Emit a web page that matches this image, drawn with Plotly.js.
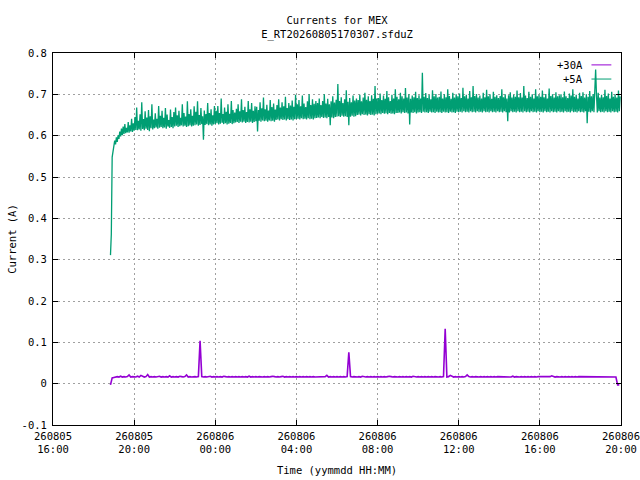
<!DOCTYPE html>
<html>
<head>
<meta charset="utf-8">
<script src="https://cdn.plot.ly/plotly-3.0.1.min.js"></script>
<style>
  html, body { margin: 0; padding: 0; background: #fff; }
  #chart { width: 640px; height: 480px; }
</style>
</head>
<body>
<div id="chart"></div>
<script>
/* Currents for MEX — +5A sampled every 2.5 min, +30A every 5 min */

const START_UTC = Date.UTC(2026, 7, 5, 18, 50); // first sample of both series
const STEP_5A_MS = 2.5 * 60 * 1000;
const STEP_30A_MS = 5 * 60 * 1000;

// +5A current, mA, one row per hour
const plus5A_mA = [
  311, 362, 548, 566,
  572, 588, 579, 596, 585, 601, 592, 610, 598, 617, 601, 622, 604, 628, 606, 619, 608, 633, 607, 625, 610, 641, 609, 630,
  612, 645, 614, 668, 613, 636, 615, 652, 612, 681, 616, 640, 613, 659, 617, 644, 614, 662, 611, 647, 618, 676, 615, 639,
  618, 654, 620, 641, 617, 672, 619, 648, 621, 660, 618, 643, 620, 667, 617, 651, 622, 638, 619, 663, 621, 645, 618, 657,
  622, 668, 624, 649, 621, 660, 623, 643, 625, 676, 622, 655, 624, 646, 621, 683, 623, 652, 625, 664, 622, 648, 624, 671,
  625, 658, 627, 683, 624, 650, 626, 667, 628, 647, 590, 661, 626, 652, 628, 679, 625, 655, 627, 664, 624, 649, 627, 672,
  628, 660, 630, 672, 627, 655, 629, 690, 631, 652, 628, 668, 630, 658, 627, 676, 629, 653, 631, 684, 628, 662, 630, 656,
  632, 665, 633, 676, 631, 659, 634, 688, 632, 662, 634, 670, 631, 657, 633, 684, 632, 664, 634, 679, 631, 660, 633, 671,
  635, 670, 610, 662, 636, 681, 634, 666, 637, 692, 635, 664, 636, 675, 634, 661, 637, 686, 635, 669, 636, 678, 634, 663,
  638, 674, 639, 688, 637, 668, 640, 681, 638, 671, 639, 694, 637, 667, 640, 679, 638, 673, 639, 685, 637, 670, 640, 699,
  640, 676, 641, 686, 639, 671, 642, 697, 640, 678, 641, 669, 639, 683, 642, 700, 640, 674, 641, 688, 639, 677, 642, 684,
  643, 679, 644, 690, 642, 674, 645, 684, 643, 700, 644, 678, 642, 689, 645, 676, 625, 683, 644, 695, 642, 680, 645, 687,
  646, 725, 647, 684, 645, 693, 648, 679, 646, 688, 647, 710, 645, 682, 625, 691, 646, 681, 648, 697, 646, 685, 647, 690,
  650, 686, 651, 699, 649, 683, 652, 692, 650, 704, 651, 687, 649, 695, 652, 684, 650, 698, 651, 689, 649, 720, 652, 690,
  653, 691, 654, 702, 652, 686, 655, 697, 653, 689, 654, 708, 652, 693, 655, 684, 653, 699, 654, 690, 652, 712, 655, 694,
  655, 688, 656, 704, 654, 695, 657, 690, 655, 715, 656, 692, 654, 700, 627, 689, 656, 697, 655, 693, 657, 706, 654, 691,
  656, 698, 657, 690, 655, 752, 658, 694, 656, 703, 657, 691, 655, 699, 658, 688, 656, 710, 657, 695, 655, 701, 658, 692,
  656, 694, 657, 707, 655, 690, 658, 700, 656, 693, 657, 712, 655, 696, 658, 689, 656, 704, 657, 692, 655, 700, 658, 695,
  657, 702, 658, 691, 656, 716, 659, 695, 657, 699, 658, 690, 656, 708, 659, 693, 657, 720, 658, 696, 656, 701, 659, 692,
  657, 697, 658, 690, 656, 704, 659, 693, 657, 711, 658, 695, 656, 700, 659, 689, 657, 706, 658, 694, 656, 698, 659, 691,
  657, 696, 658, 712, 656, 693, 659, 700, 657, 690, 635, 698, 656, 705, 659, 692, 657, 699, 658, 694, 656, 709, 659, 693,
  657, 703, 658, 692, 656, 720, 659, 697, 657, 691, 658, 706, 656, 694, 659, 700, 657, 690, 658, 712, 656, 695, 659, 699,
  657, 694, 658, 709, 656, 693, 659, 701, 657, 690, 658, 714, 656, 696, 659, 700, 657, 692, 658, 705, 656, 695, 659, 698,
  657, 700, 658, 693, 656, 707, 659, 695, 657, 691, 658, 702, 656, 697, 659, 712, 657, 694, 658, 699, 656, 690, 659, 704,
  657, 696, 658, 705, 656, 692, 659, 700, 630, 694, 658, 708, 656, 695, 659, 701, 657, 693, 760, 698, 656, 704, 659, 692,
  657, 699, 658, 693, 656, 711, 659, 696, 657, 702, 658, 690, 656, 706, 659, 694, 657, 700, 658, 692, 656, 709, 659, 695
];

// +30A current, mA, one row per hour
const plus30A_mA = [
  -3, 14,
  15, 16, 17, 16, 18, 16, 17, 16, 17, 21, 16, 17,
  17, 16, 18, 16, 20, 17, 16, 17, 22, 16, 17, 16,
  17, 16, 17, 18, 16, 17, 16, 17, 16, 19, 16, 17,
  16, 17, 16, 18, 17, 16, 17, 21, 16, 17, 16, 17,
  17, 16, 17, 104, 17, 16, 17, 16, 17, 18, 16, 17,
  16, 17, 16, 17, 16, 18, 17, 16, 17, 16, 17, 16,
  17, 16, 17, 16, 17, 16, 17, 16, 18, 16, 17, 16,
  17, 16, 17, 16, 16, 17, 16, 17, 16, 17, 18, 17,
  16, 17, 16, 17, 18, 16, 17, 16, 17, 16, 17, 16,
  17, 16, 17, 16, 17, 16, 17, 16, 17, 16, 17, 16,
  16, 17, 16, 17, 16, 17, 20, 16, 17, 16, 17, 16,
  17, 16, 17, 16, 17, 16, 17, 76, 17, 16, 17, 16,
  16, 17, 16, 18, 17, 16, 17, 16, 17, 16, 17, 16,
  17, 16, 17, 16, 17, 16, 17, 18, 17, 16, 17, 16,
  16, 17, 16, 17, 16, 17, 16, 17, 16, 18, 17, 16,
  17, 16, 17, 16, 17, 16, 17, 16, 17, 16, 17, 16,
  16, 17, 16, 17, 133, 16, 17, 20, 17, 16, 17, 16,
  17, 16, 17, 16, 17, 21, 17, 16, 17, 16, 17, 16,
  16, 17, 16, 17, 16, 17, 16, 17, 16, 17, 16, 17,
  17, 16, 17, 16, 17, 16, 17, 16, 18, 16, 17, 16,
  16, 17, 16, 17, 16, 17, 16, 17, 16, 17, 16, 17,
  17, 16, 17, 16, 17, 16, 17, 19, 17, 16, 17, 16,
  16, 17, 16, 17, 16, 17, 16, 17, 16, 17, 16, 17,
  17, 16, 17, 16, 17, 16, 17, 16, 17, 16, 17, 16,
  17, 16, 17, 16, 17, 16, 17, 16, 17, 16, -3, -3
];

const xTickVals = [
  "2026-08-05 16:00", "2026-08-05 20:00", "2026-08-06 00:00", "2026-08-06 04:00",
  "2026-08-06 08:00", "2026-08-06 12:00", "2026-08-06 16:00", "2026-08-06 20:00"
];
const xTickText = [
  "260805<br>16:00", "260805<br>20:00", "260806<br>00:00", "260806<br>04:00",
  "260806<br>08:00", "260806<br>12:00", "260806<br>16:00", "260806<br>20:00"
];
const yTickVals = [-0.1, 0, 0.1, 0.2, 0.3, 0.4, 0.5, 0.6, 0.7, 0.8];
const yTickText = ["-0.1", "0", "0.1", "0.2", "0.3", "0.4", "0.5", "0.6", "0.7", "0.8"];

const seriesNames = ["+30A", "+5A"];
const seriesColors = ["#9400d3", "#009e73"];
const seriesWidths = [1.6, 1.3];

function sampleTimes(n, stepMs) {
  const out = [];
  for (let i = 0; i < n; i++) {
    out.push(new Date(START_UTC + i * stepMs).toISOString().slice(0, 19).replace("T", " "));
  }
  return out;
}

const FONT = "DejaVu Sans Mono, monospace";

const seriesData = [plus30A_mA, plus5A_mA];
const seriesSteps = [STEP_30A_MS, STEP_5A_MS];

const traces = seriesData.map((vals, k) => ({
  type: "scatter",
  mode: "lines",
  name: seriesNames[k],
  x: sampleTimes(vals.length, seriesSteps[k]),
  y: vals.map((v) => v / 1000),
  line: { color: seriesColors[k], width: seriesWidths[k] },
  showlegend: false,
}));

const axisCommon = {
  showline: true,
  linecolor: "#000",
  linewidth: 1,
  mirror: "allticks",
  ticks: "inside",
  ticklen: 5,
  tickcolor: "#000",
  showgrid: true,
  gridcolor: "#a0a0a0",
  gridwidth: 1,
  griddash: "2px,3px",
  zeroline: false,
  tickfont: { family: FONT, size: 10.5, color: "#000" },
};

// key drawn gnuplot-style: label on the left, sample line on the right
const keyY = [0.968, 0.930];
const annotations = seriesNames.map((name, k) => ({
  xref: "paper", yref: "paper",
  x: 0.937, y: keyY[k],
  xanchor: "right", yanchor: "middle",
  text: name, showarrow: false,
  font: { family: FONT, size: 10.5, color: "#000" },
}));
const shapes = seriesNames.map((name, k) => ({
  type: "line", xref: "paper", yref: "paper",
  x0: 0.948, x1: 0.983, y0: keyY[k], y1: keyY[k],
  line: { color: seriesColors[k], width: 1 },
}));

const layout = {
  width: 640,
  height: 480,
  paper_bgcolor: "#fff",
  plot_bgcolor: "#fff",
  font: { family: FONT, size: 10.5, color: "#000" },
  margin: { l: 53, r: 19, t: 53, b: 55 },
  title: {
    text: "Currents for MEX<br>E_RT20260805170307.sfduZ",
    font: { family: FONT, size: 10.5, color: "#000" },
    xref: "paper", x: 0.5, xanchor: "center",
    yref: "container", y: 0.95, yanchor: "top",
  },
  xaxis: Object.assign({}, axisCommon, {
    type: "date",
    range: ["2026-08-05 16:00", "2026-08-06 20:00"],
    tickmode: "array",
    tickvals: xTickVals,
    ticktext: xTickText,
    ticklabelstandoff: 1,
    title: { text: "Time (yymmdd HH:MM)", font: { family: FONT, size: 10.5 }, standoff: 12 },
  }),
  yaxis: Object.assign({}, axisCommon, {
    range: [-0.1, 0.8],
    tickmode: "array",
    tickvals: yTickVals,
    ticktext: yTickText,
    ticklabelstandoff: 3,
    title: { text: "Current (A)", font: { family: FONT, size: 10.5 }, standoff: 2 },
  }),
  annotations: annotations,
  shapes: shapes,
};

Plotly.newPlot("chart", traces, layout, { displayModeBar: false, staticPlot: true });
</script>
</body>
</html>
